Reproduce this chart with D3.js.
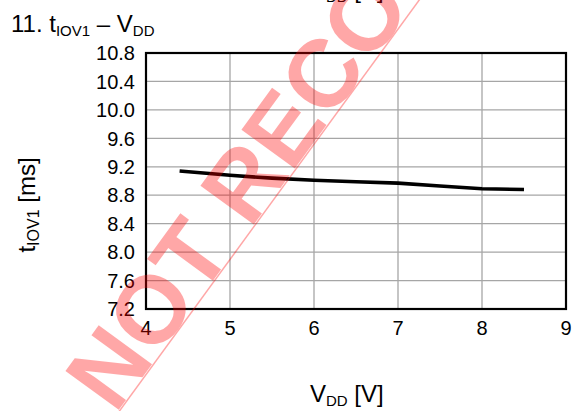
<!DOCTYPE html>
<html>
<head>
<meta charset="utf-8">
<script src="https://cdn.jsdelivr.net/npm/d3@7"></script>
<style>
  body { margin: 0; background: #fff; }
  svg { display: block; font-family: "Liberation Sans", Arial, sans-serif; }
</style>
</head>
<body>
<svg width="577" height="411"></svg>
<script>
const width = 577, height = 411;

// data
const vdd = [4.4, 5, 5.5, 6, 6.5, 7, 7.5, 8, 8.5];
const tiov1 = [9.14, 9.08, 9.04, 9.01, 8.99, 8.97, 8.93, 8.89, 8.88];
const xTicks = [4, 5, 6, 7, 8, 9];
const yTicks = [7.2, 7.6, 8.0, 8.4, 8.8, 9.2, 9.6, 10.0, 10.4, 10.8];

const plot = {left: 146, top: 53, right: 566, bottom: 309};

const svg = d3.select("svg");

const x = d3.scaleLinear().domain([4, 9]).range([plot.left, plot.right]);
const y = d3.scaleLinear().domain([7.2, 10.8]).range([plot.bottom, plot.top]);

// cut-off label of the previous chart at the very top
const prev = svg.append("text")
    .attr("x", 310)
    .attr("y", -2)
    .attr("font-size", "24px")
    .attr("fill", "#000");
prev.append("tspan").text("V");
prev.append("tspan").attr("font-size", "15px").attr("dy", 4).text("DD");
prev.append("tspan").attr("dy", -4).text(" [V]");

// title
const title = svg.append("text")
    .attr("x", 11)
    .attr("y", 32)
    .attr("font-size", "24px")
    .attr("fill", "#000");
title.append("tspan").text("11. t");
title.append("tspan").attr("font-size", "15px").attr("dy", 4).text("IOV1");
title.append("tspan").attr("dy", -4).text(" \u2013 V");
title.append("tspan").attr("font-size", "15px").attr("dy", 4).text("DD");

// grid
svg.append("g")
    .selectAll("line.vgrid")
    .data(xTicks)
    .join("line")
    .attr("x1", d => x(d)).attr("x2", d => x(d))
    .attr("y1", plot.top).attr("y2", plot.bottom)
    .attr("stroke", "#a6a6a6")
    .attr("stroke-width", 1.3);

svg.append("g")
    .selectAll("line.hgrid")
    .data(yTicks)
    .join("line")
    .attr("x1", plot.left).attr("x2", plot.right)
    .attr("y1", d => y(d)).attr("y2", d => y(d))
    .attr("stroke", "#a6a6a6")
    .attr("stroke-width", 1.3);

// frame
svg.append("rect")
    .attr("x", plot.left)
    .attr("y", plot.top)
    .attr("width", plot.right - plot.left)
    .attr("height", plot.bottom - plot.top)
    .attr("fill", "none")
    .attr("stroke", "#000")
    .attr("stroke-width", 2.2);

// tick labels
svg.append("g")
    .selectAll("text")
    .data(xTicks)
    .join("text")
    .attr("x", d => x(d))
    .attr("y", 335)
    .attr("text-anchor", "middle")
    .attr("font-size", "20px")
    .text(d => d);

svg.append("g")
    .selectAll("text")
    .data(yTicks)
    .join("text")
    .attr("x", 135)
    .attr("y", d => y(d))
    .attr("dy", "0.36em")
    .attr("text-anchor", "end")
    .attr("font-size", "20px")
    .text(d => d.toFixed(1));

// curve
const line = d3.line()
    .x((d, i) => x(vdd[i]))
    .y(d => y(d));

svg.append("path")
    .datum(tiov1)
    .attr("d", line)
    .attr("fill", "none")
    .attr("stroke", "#000")
    .attr("stroke-width", 3.6);

// axis labels
const xLabel = svg.append("text")
    .attr("x", 310)
    .attr("y", 402)
    .attr("font-size", "24px");
xLabel.append("tspan").text("V");
xLabel.append("tspan").attr("font-size", "15px").attr("dy", 4).text("DD");
xLabel.append("tspan").attr("dy", -4).text(" [V]");

const yLabel = svg.append("text")
    .attr("transform", "translate(35,205) rotate(-90)")
    .attr("text-anchor", "middle")
    .attr("font-size", "24px");
yLabel.append("tspan").text("t");
yLabel.append("tspan").attr("font-size", "16px").attr("dy", 4).text("IOV1");
yLabel.append("tspan").attr("dy", -4).text(" [ms]");

// watermark, baseline along the thin diagonal
const wm = svg.append("g").attr("opacity", 0.34);
wm.append("text")
    .attr("transform", "translate(115,415) rotate(-53.9)")
    .attr("font-size", "96px")
    .attr("font-weight", "bold")
    .attr("fill", "#ff0000")
    .text("NOT RECOMMENDED");
wm.append("line")
    .attr("x1", 118).attr("y1", 413)
    .attr("x2", 420).attr("y2", -1)
    .attr("stroke", "#ff0000")
    .attr("stroke-width", 1.5);
</script>
</body>
</html>
